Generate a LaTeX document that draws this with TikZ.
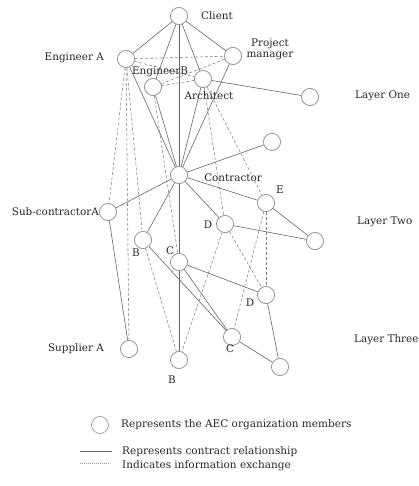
\documentclass[tikz,border=0pt]{standalone}
\usepackage{fontspec}
\setmainfont{DejaVu Serif}
\begin{document}
\begin{tikzpicture}[x=1pt,y=-1pt,
  member/.style={circle,draw=black!45,fill=white,line width=0.6pt,minimum size=17pt,inner sep=0pt},
  contract/.style={draw=black!60,line width=0.6pt},
  info/.style={draw=black!50,line width=0.55pt,dash pattern=on 3pt off 2pt},
  lbl/.style={font=\fontsize{10.4}{12}\selectfont,text=black!85,inner sep=0pt},
  legendtext/.style={font=\fontsize{10.5}{12}\selectfont,text=black!85,inner sep=0pt,anchor=west}]
\useasboundingbox (0,0) rectangle (418,486);

% organization members
\node[member] (client) at (179,16) {};
\node[member] (engA)   at (126,59) {};
\node[member] (pm)     at (233,56) {};
\node[member] (engB)   at (153,87) {};
\node[member] (arch)   at (203,79) {};
\node[member] (l1)     at (310,97) {};
\node[member] (contr)  at (179,175) {};
\node[member] (ur)     at (272,142) {};
\node[member] (subA)   at (108,212) {};
\node[member] (e1)     at (266,203) {};
\node[member] (d1)     at (225,224) {};
\node[member] (r2)     at (315,241) {};
\node[member] (b1)     at (143,240) {};
\node[member] (c1)     at (179,262) {};
\node[member] (d2)     at (266,295) {};
\node[member] (c2)     at (232,337) {};
\node[member] (supA)   at (129,349) {};
\node[member] (b2)     at (179,360) {};
\node[member] (r3)     at (280,367) {};

% information exchange
\draw[info] (engA) -- (pm);
\draw[info] (engA) -- (arch);
\draw[info] (pm) -- (engB);
\draw[info] (engB) -- (arch);
\draw[info] (engA) -- (subA);
\draw[info] (engA) -- (supA);
\draw[info] (engA) -- (b1);
\draw[info] (engB) -- (c1);
\draw[info] (arch) -- (d1);
\draw[info] (arch) -- (e1);
\draw[info] (b1) -- (b2);
\draw[info] (d1) -- (b2);
\draw[info] (d1) -- (d2);
\draw[info] (e1) -- (c2);
\draw[info] (e1) -- (d2);

% contract relationships
\draw[contract] (client) -- (engA);
\draw[contract] (client) -- (engB);
\draw[contract] (client) -- (arch);
\draw[contract] (client) -- (pm);
\draw[contract] (client) -- (contr);
\draw[contract] (engA) -- (contr);
\draw[contract] (engB) -- (contr);
\draw[contract] (arch) -- (contr);
\draw[contract] (pm) -- (contr);
\draw[contract] (arch) -- (l1);
\draw[contract] (contr) -- (ur);
\draw[contract] (contr) -- (subA);
\draw[contract] (contr) -- (e1);
\draw[contract] (contr) -- (d1);
\draw[contract] (contr) -- (b1);
\draw[contract] (contr) -- (c1);
\draw[contract] (e1) -- (r2);
\draw[contract] (d1) -- (r2);
\draw[contract] (subA) -- (supA);
\draw[contract] (b1) -- (c2);
\draw[contract] (c1) -- (c2);
\draw[contract] (c1) -- (d2);
\draw[contract] (c1) -- (b2);
\draw[contract] (c2) -- (r3);
\draw[contract] (d2) -- (r3);

% circles again, on top of the lines
\foreach \p in {{179,16},{126,59},{233,56},{153,87},{203,79},{310,97},{179,175},
  {272,142},{108,212},{266,203},{225,224},{315,241},{143,240},{179,262},{266,295},
  {232,337},{129,349},{179,360},{280,367}}
  \node[member] at (\p) {};

% labels
\node[lbl,anchor=west] (tClient) at (201,16) {Client};
\node[lbl,anchor=east] (tEngA) at (104,58) {Engineer A};
\node[lbl,align=center] (tPM) at (270,49) {Project\\[-1pt]manager};
\node[lbl] (tEngB) at (160,72) {EngineerB};
\node[lbl] (tArch) at (209,96) {Architect};
\node[lbl] (tContr) at (233,178) {Contractor};
\node[lbl,anchor=east] (tSubA) at (99,212) {Sub-contractorA};
\node[lbl,anchor=east] (tSupA) at (104,349) {Supplier A};
\node[lbl] (tE) at (280,190) {E};
\node[lbl] (tD1) at (208,225) {D};
\node[lbl] (tB1) at (136,253) {B};
\node[lbl] (tC1) at (170,251) {C};
\node[lbl] (tD2) at (250,303) {D};
\node[lbl] (tC2) at (230,349) {C};
\node[lbl] (tB2) at (172,380) {B};
\node[lbl,anchor=west] (tL1) at (355,96) {Layer One};
\node[lbl,anchor=west] (tL2) at (357,222) {Layer Two};
\node[lbl,anchor=west] (tL3) at (354,340) {Layer Three};

% legend
\node[member] (legC) at (100,425) {};
\node[legendtext] (legCt) at (121,425) {Represents the AEC organization members};
\coordinate (ls1) at (80,451);
\coordinate (ls2) at (112,451);
\draw[contract] (ls1) -- (ls2);
\node[legendtext] (legSt) at (122,452) {Represents contract relationship};
\coordinate (ld1) at (80,463);
\coordinate (ld2) at (110,463);
\draw[draw=black!40,line width=0.5pt,dash pattern=on 1pt off 1pt] (ld1) -- (ld2);
\node[legendtext] (legDt) at (122,466) {Indicates information exchange};
\end{tikzpicture}
\end{document}
